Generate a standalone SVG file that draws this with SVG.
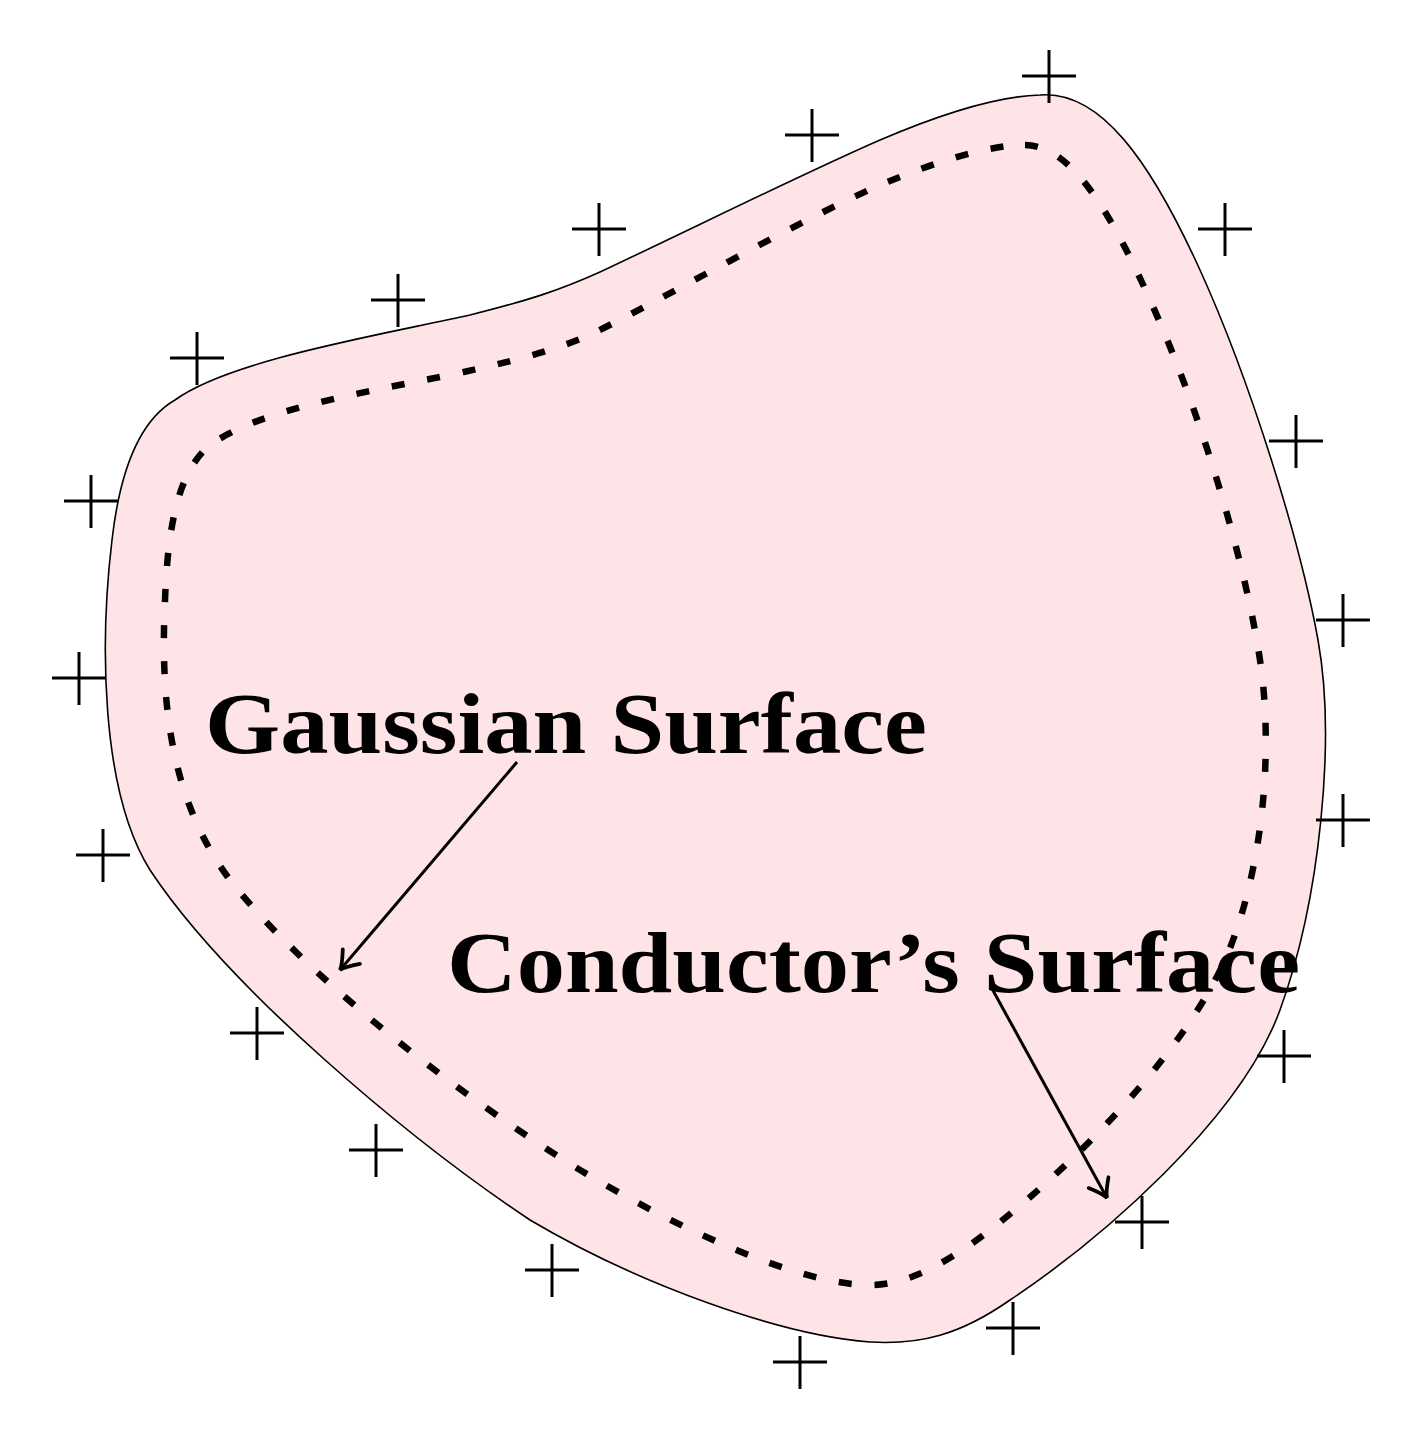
<svg xmlns="http://www.w3.org/2000/svg" width="1424" height="1440" viewBox="0 0 1424 1440">
<style>
.lbl{font-family:"Liberation Serif","DejaVu Serif",serif;font-weight:bold;font-size:86px;fill:#000}
.plus{stroke:#000;stroke-width:3;fill:none}
.arr{stroke:#000;stroke-width:3;fill:none}
</style>
<defs>
<marker id="tip" markerUnits="userSpaceOnUse" markerWidth="30" markerHeight="30" viewBox="-16 -12 20 24" refX="0" refY="0" orient="auto">
<path d="M -14 -9 Q -4 -1 0 0 Q -4 1 -14 9" stroke="#000" stroke-width="3" fill="none" stroke-linecap="round"/>
</marker>
<path id="outer" d="M 1040 95 C 1100 90, 1150 160, 1200 270 C 1250 380, 1300 540, 1318 640 C 1336 740, 1320 900, 1280 1010 C 1240 1120, 1100 1240, 1010 1300 C 960 1335, 920 1345, 870 1342 C 780 1335, 640 1285, 530 1220 C 410 1140, 228 988, 150 870 C 100 790, 100 640, 112 540 C 120 470, 140 420, 175 400 C 230 360, 380 335, 470 315 C 530 300, 560 290, 600 272 C 700 225, 800 175, 880 140 C 950 110, 1000 96, 1040 95 Z"/>
</defs>
<rect width="1424" height="1440" fill="#fff"/>
<g id="conductor">
<use href="#outer" fill="#FFE4E7" stroke="none"/>
</g>
<g id="labels">
<text id="gauss-label" class="lbl" x="205" y="753" textLength="722" lengthAdjust="spacingAndGlyphs">Gaussian Surface</text>
<text id="cond-label" class="lbl" x="447" y="992" textLength="853" lengthAdjust="spacingAndGlyphs">Conductor’s Surface</text>
</g>
<g id="conductor-outline">
<use href="#outer" fill="none" stroke="#000" stroke-width="1.6"/>
</g>
<g id="gaussian">
<path d="M 1025 145 C 1070 145, 1110 210, 1150 300 C 1200 410, 1245 560, 1260 660 C 1275 760, 1260 880, 1225 960 C 1180 1060, 1060 1180, 970 1245 C 930 1272, 900 1285, 870 1285 C 800 1285, 680 1230, 580 1170 C 450 1090, 300 970, 230 880 C 170 800, 160 700, 165 600 C 168 520, 180 470, 210 445 C 260 410, 350 395, 450 375 C 510 362, 550 352, 590 335 C 680 290, 790 225, 880 185 C 940 160, 990 145, 1025 145" fill="none" stroke="#000" stroke-width="6.5" stroke-dasharray="13 23"/>
</g>
<g id="connectors">
<line class="arr" x1="517" y1="762" x2="340" y2="970" marker-end="url(#tip)"/>
<line class="arr" x1="990" y1="985" x2="1107" y2="1198" marker-end="url(#tip)"/>
</g>
<g id="charges" class="plus">
<path d="M1022 76h54M1049 50v53"/>
<path d="M785 135h54M812 109v53"/>
<path d="M572 229h54M599 203v53"/>
<path d="M371 300h54M398 274v53"/>
<path d="M170 358h54M197 332v53"/>
<path d="M64 501h54M91 475v53"/>
<path d="M52 678h54M79 652v53"/>
<path d="M76 855h54M103 829v53"/>
<path d="M230 1033h54M257 1007v53"/>
<path d="M349 1150h54M376 1124v53"/>
<path d="M525 1270h54M552 1244v53"/>
<path d="M773 1362h54M800 1336v53"/>
<path d="M986 1328h54M1013 1302v53"/>
<path d="M1115 1222h54M1142 1196v53"/>
<path d="M1257 1056h54M1284 1030v53"/>
<path d="M1316 820h54M1343 794v53"/>
<path d="M1316 620h54M1343 594v53"/>
<path d="M1269 441h54M1296 415v53"/>
<path d="M1198 229h54M1225 203v53"/>
</g>
</svg>
